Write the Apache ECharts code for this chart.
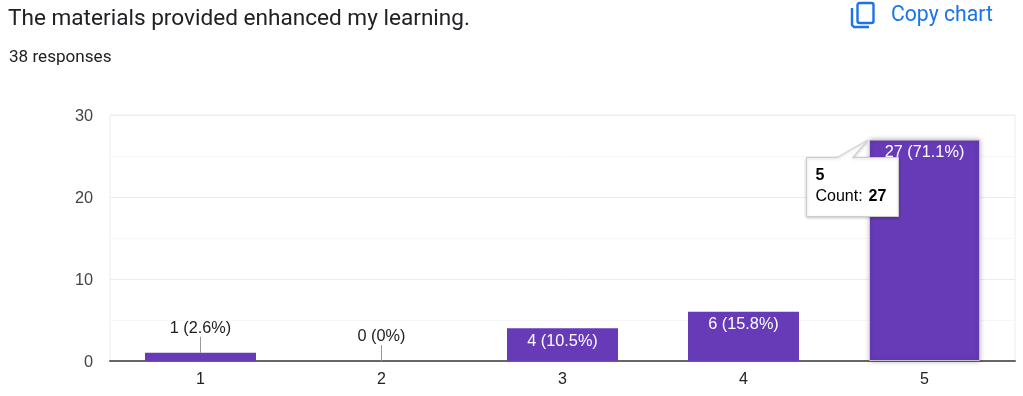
<!DOCTYPE html>
<html><head><meta charset="utf-8">
<style>html,body{margin:0;padding:0;background:#fff}#c{width:1023px;height:396px}</style>
<script src="https://cdn.jsdelivr.net/npm/echarts@6/dist/echarts.min.js"></script>
</head><body><div id="c"></div>
<script>
const categories = ['1','2','3','4','5'];
const counts = [1,0,4,6,27];
const percents = ['2.6%','0%','10.5%','15.8%','71.1%'];
const titleText = 'The materials provided enhanced my learning.';
const subtitleText = '38 responses';
const copyText = 'Copy chart';
const highlighted = 4;
const seriesName = 'Count';
const outsideLimit = 2;

const PURPLE = '#673ab7', INK = '#222222', BLUE = '#1a73e8';
const labelOf = i => counts[i] + ' (' + percents[i] + ')';
const chart = echarts.init(document.getElementById('c'), null, {renderer:'canvas'});

chart.setOption({
  animation:false,
  backgroundColor:'#fff',
  title:[
    {text:titleText,left:8,top:8,padding:0,textStyle:{fontFamily:'Roboto',fontSize:22.6,fontWeight:400,color:'#202124'}},
    {text:subtitleText,left:9,top:49,padding:0,textStyle:{fontFamily:'Roboto',fontSize:17.1,fontWeight:400,color:'#202124'}},
    {text:copyText,left:891,top:5,padding:0,textStyle:{fontFamily:'Roboto',fontSize:21.2,fontWeight:400,color:BLUE}}
  ],
  graphic:[
    {type:'rect',shape:{x:857.5,y:3,width:16,height:20,r:2},style:{fill:'none',stroke:BLUE,lineWidth:2.4}},
    {type:'polyline',shape:{points:[[852,8],[852,25],[854,27],[869,27]]},style:{fill:'none',stroke:BLUE,lineWidth:2.4}}
  ],
  grid:{left:110,right:8,top:115,bottom:35,show:true,borderColor:'#ececec',borderWidth:1,backgroundColor:'transparent'},
  xAxis:{
    type:'category',data:categories,boundaryGap:true,
    axisTick:{show:false},
    axisLine:{show:true,onZero:true,lineStyle:{color:'#666',width:2}},
    axisLabel:{margin:11,fontFamily:'Liberation Sans',fontSize:16,color:INK},
    splitLine:{show:false}
  },
  yAxis:{
    type:'value',min:0,max:30,interval:10,
    axisLine:{show:false},axisTick:{show:false},
    axisLabel:{margin:17,formatter:'{t|{value}}',rich:{t:{fontFamily:'Liberation Sans',fontSize:16.3,color:'#444',padding:[3,0,0,0]}}},
    splitLine:{show:true,lineStyle:{color:'#ececec',width:1}},
    minorTick:{show:false,splitNumber:2},
    minorSplitLine:{show:true,lineStyle:{color:'#f7f7f7',width:1}}
  },
  series:[
    {
      type:'bar',name:seriesName,barWidth:111,z:2,
      data:counts.map((v,i)=>({
        value:v,
        itemStyle:i===highlighted?{color:PURPLE,borderColor:'rgba(205,205,205,0.9)',borderWidth:1,shadowBlur:5,shadowColor:'rgba(0,0,0,0.28)'}:{color:PURPLE},
        label:{show:v>outsideLimit}
      })),
      label:{
        show:true,position:'insideTop',distance:5,
        formatter:p=>labelOf(p.dataIndex),
        fontFamily:'Liberation Sans',fontSize:16.3,color:'#fff'
      }
    },
    {
      type:'custom',z:3,silent:true,
      coordinateSystem:'cartesian2d',
      encode:{x:0,y:1},
      data:counts.map((v,i)=>[i,v]).filter(d=>d[1]<=outsideLimit),
      renderItem:(params,api)=>{
        const i=api.value(0), p=api.coord([i,api.value(1)]);
        return {type:'group',children:[
          {type:'line',shape:{x1:p[0],y1:p[1],x2:p[0],y2:p[1]-16},style:{stroke:'#999',lineWidth:1}},
          {type:'text',style:{text:labelOf(i),x:p[0],y:p[1]-24,align:'center',verticalAlign:'middle',
            font:'16.3px "Liberation Sans"',fill:INK}}
        ]};
      }
    },
    {
      type:'custom',z:5,silent:true,
      coordinateSystem:'cartesian2d',
      encode:{x:0,y:1},
      data:[[highlighted,counts[highlighted]]],
      renderItem:(params,api)=>{
        const i=api.value(0), p=api.coord([i,api.value(1)]);
        const ox=p[0]-924, oy=p[1]-139.6;
        const X=x=>x+ox, Y=y=>y+oy;
        return {type:'group',children:[
          {type:'polygon',shape:{points:[[X(806),Y(157.5)],[X(837),Y(157.5)],[X(867.5),Y(140)],[X(852),Y(157.5)],[X(898),Y(157.5)],[X(898),Y(216.5)],[X(806),Y(216.5)]]},
           style:{fill:'#fff',stroke:'#cccccc',lineWidth:1,lineJoin:'round',shadowBlur:3,shadowColor:'rgba(0,0,0,0.2)',shadowOffsetY:1}},
          {type:'text',style:{text:categories[i],x:X(815),y:Y(176),verticalAlign:'middle',font:'bold 16px "Liberation Sans"',fill:'#000'}},
          {type:'text',style:{text:seriesName+':',x:X(815),y:Y(197),verticalAlign:'middle',font:'16px "Liberation Sans"',fill:'#000'}},
          {type:'text',style:{text:String(api.value(1)),x:X(868),y:Y(197),verticalAlign:'middle',font:'bold 16px "Liberation Sans"',fill:'#000'}}
        ]};
      }
    }
  ]
});
</script></body></html>
